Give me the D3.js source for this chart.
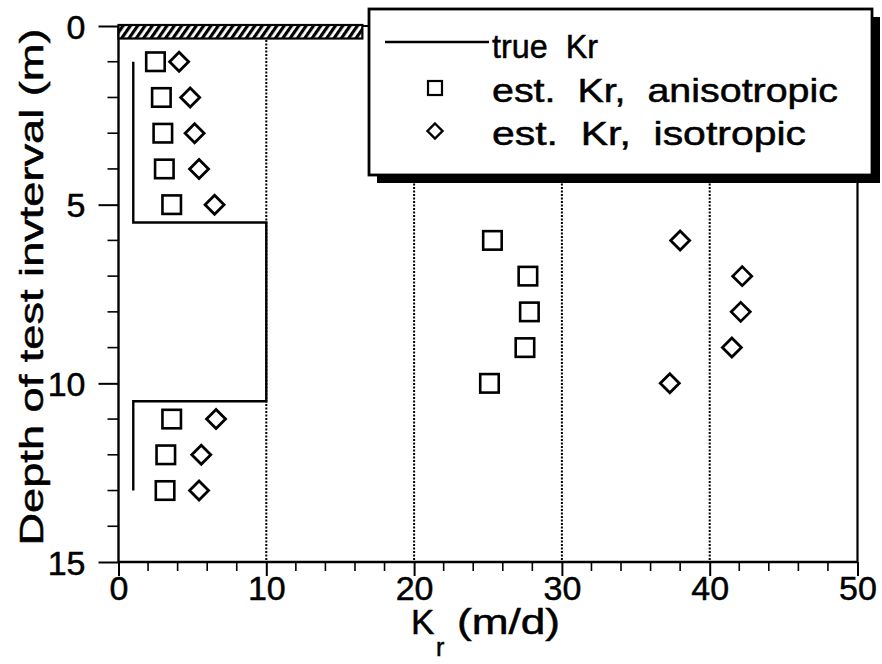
<!DOCTYPE html>
<html>
<head>
<meta charset="utf-8">
<script src="https://cdn.jsdelivr.net/npm/d3@7"></script>
<style>
  html, body { margin: 0; padding: 0; background: #fff; }
  svg { display: block; }
  text { font-family: "Liberation Sans", Arial, Helvetica, sans-serif; fill: #000; stroke: #000; stroke-width: 0.5px; }
</style>
</head>
<body>
<svg id="chart" width="882" height="664"></svg>
<script>
// ---- data ----
const depths = [1, 2, 3, 4, 5, 6, 7, 8, 9, 10, 11, 12, 13];
const anisoKr = [2.5, 2.9, 3.0, 3.1, 3.6, 25.3, 27.7, 27.8, 27.5, 25.1, 3.6, 3.2, 3.15];
const isoKr = [4.1, 4.85, 5.15, 5.45, 6.5, 38.0, 42.2, 42.1, 41.5, 37.3, 6.6, 5.6, 5.45];
const trueKrValues = [1, 1, 10, 10, 1, 1];
const trueKrDepths = [1, 5.5, 5.5, 10.5, 10.5, 13];
const surfaceKr = [0, 16.5];
const surfaceDepth = [0, 0.35];
const xTickValues = [0, 10, 20, 30, 40, 50];
const xMinorTicks = [2, 4, 6, 8, 12, 14, 16, 18, 22, 24, 26, 28, 32, 34, 36, 38, 42, 44, 46, 48];
const yTickValues = [0, 5, 10, 15];
const yMinorTicks = [1, 2, 3, 4, 6, 7, 8, 9, 11, 12, 13, 14];
const gridValues = [10, 20, 30, 40];
const legendLabels = ["true  Kr", "est.  Kr,  anisotropic", "est.  Kr,  isotropic"];
const xTitle = ["K", "r", "(m/d)"];
const yTitle = "Depth of test invterval (m)";

// ---- layout ----
const svg = d3.select("#chart");
const x = d3.scaleLinear().domain([0, 50]).range([118.5, 857.5]);
const y = d3.scaleLinear().domain([0, 15]).range([26, 562]);

// hatch pattern
const defs = svg.append("defs");
const pat = defs.append("pattern").attr("id", "hatch")
  .attr("patternUnits", "userSpaceOnUse").attr("width", 6).attr("height", 6)
  .attr("patternTransform", "rotate(35)");
pat.append("rect").attr("width", 6).attr("height", 6).attr("fill", "#fff");
pat.append("rect").attr("width", 3.2).attr("height", 6).attr("fill", "#000");

// grid lines
svg.append("g").selectAll("line").data(gridValues).join("line")
  .attr("x1", d => x(d)).attr("x2", d => x(d))
  .attr("y1", y(0)).attr("y2", y(15))
  .attr("stroke", "#000").attr("stroke-width", 2)
  .attr("stroke-dasharray", "2,1.5");

// frame: right and top
svg.append("line").attr("x1", x(50)).attr("x2", x(50)).attr("y1", y(0)).attr("y2", y(15))
  .attr("stroke", "#000").attr("stroke-width", 2.2);
svg.append("line").attr("x1", x(0)).attr("x2", x(50)).attr("y1", y(0)).attr("y2", y(0))
  .attr("stroke", "#000").attr("stroke-width", 2);

// x axis
const xAxis = svg.append("g").attr("transform", `translate(0,${y(15)})`);
xAxis.call(d3.axisBottom(x).tickValues(xTickValues).tickSize(14).tickPadding(0).tickFormat(d3.format("d")));
xAxis.append("g").selectAll("line").data(xMinorTicks).join("line")
  .attr("x1", d => x(d)).attr("x2", d => x(d)).attr("y1", 0).attr("y2", 9)
  .attr("stroke", "#000").attr("stroke-width", 1.6);
xAxis.select(".domain").attr("d", `M${x(0)},0H${x(50)}`).attr("stroke-width", 2.4);
xAxis.selectAll(".tick line").attr("stroke-width", 2);
xAxis.selectAll(".tick text").style("font-size", "34px").attr("dy", "0.7em");

// y axis
const yAxis = svg.append("g").attr("transform", `translate(${x(0)},0)`);
yAxis.call(d3.axisLeft(y).tickValues(yTickValues).tickSize(20).tickPadding(13).tickFormat(d3.format("d")));
yAxis.append("g").selectAll("line").data(yMinorTicks).join("line")
  .attr("y1", d => y(d)).attr("y2", d => y(d)).attr("x1", 0).attr("x2", -11)
  .attr("stroke", "#000").attr("stroke-width", 1.6);
yAxis.select(".domain").attr("d", `M0,${y(0)}V${y(15)}`).attr("stroke-width", 2.4);
yAxis.selectAll(".tick line").attr("stroke-width", 2);
yAxis.selectAll(".tick text").style("font-size", "34px").attr("dy", "0.36em");

// hatched surface bar
svg.append("rect")
  .attr("x", x(surfaceKr[0])).attr("y", y(surfaceDepth[0]) - 1)
  .attr("width", x(surfaceKr[1]) - x(surfaceKr[0]))
  .attr("height", y(surfaceDepth[1]) - y(surfaceDepth[0]) + 1)
  .attr("fill", "url(#hatch)").attr("stroke", "#000").attr("stroke-width", 2.2);

// true Kr step line
const truePts = trueKrValues.map((v, i) => [v, trueKrDepths[i]]);
svg.append("path").datum(truePts)
  .attr("d", d3.line().x(d => x(d[0])).y(d => y(d[1])))
  .attr("fill", "none").attr("stroke", "#000").attr("stroke-width", 2.4);

// squares (anisotropic)
const sq = 18.5;
svg.append("g").selectAll("rect").data(depths).join("rect")
  .attr("x", (d, i) => x(anisoKr[i]) - sq / 2).attr("y", d => y(d) - sq / 2)
  .attr("width", sq).attr("height", sq)
  .attr("fill", "none").attr("stroke", "#000").attr("stroke-width", 2.6);

// diamonds (isotropic)
const dh = 9.5;
const diamondPath = (cx, cy, h) => `M${cx},${cy - h}L${cx + h},${cy}L${cx},${cy + h}L${cx - h},${cy}Z`;
svg.append("g").selectAll("path").data(depths).join("path")
  .attr("d", (d, i) => diamondPath(x(isoKr[i]), y(d), dh))
  .attr("fill", "none").attr("stroke", "#000").attr("stroke-width", 2.8);

// legend
const lg = { x: 369, y: 9, w: 503, h: 166, sh: 8 };
svg.append("rect").attr("x", lg.x + lg.sh).attr("y", lg.y + lg.sh).attr("width", lg.w).attr("height", lg.h).attr("fill", "#000");
svg.append("rect").attr("x", lg.x).attr("y", lg.y).attr("width", lg.w).attr("height", lg.h)
  .attr("fill", "#fff").attr("stroke", "#000").attr("stroke-width", 2.8);
const rowY = [46, 90, 133];
const rowLen = [106, 346, 314];
svg.append("line").attr("x1", 385).attr("x2", 489).attr("y1", rowY[0] - 4).attr("y2", rowY[0] - 4)
  .attr("stroke", "#000").attr("stroke-width", 2.4);
svg.append("rect").attr("x", 435 - 7).attr("y", rowY[1] - 9).attr("width", 14).attr("height", 14)
  .attr("fill", "none").attr("stroke", "#000").attr("stroke-width", 2.2);
svg.append("path").attr("d", diamondPath(435, rowY[2] - 2, 7.5))
  .attr("fill", "none").attr("stroke", "#000").attr("stroke-width", 2.4);
svg.append("g").selectAll("text").data(legendLabels).join("text")
  .attr("x", 492).attr("y", (d, i) => rowY[i]).attr("dy", "0.35em")
  .style("font-size", "33px").attr("xml:space", "preserve")
  .attr("textLength", (d, i) => rowLen[i]).attr("lengthAdjust", "spacingAndGlyphs")
  .text(d => d);

// axis titles
svg.append("text").attr("x", 411).attr("y", 634).style("font-size", "35px").text(xTitle[0]);
svg.append("text").attr("x", 436).attr("y", 656).style("font-size", "25px").text(xTitle[1]);
svg.append("text").attr("x", 457).attr("y", 634).style("font-size", "35px")
  .attr("textLength", 103).attr("lengthAdjust", "spacingAndGlyphs").text(xTitle[2]);

svg.append("text")
  .attr("transform", `translate(43,${287}) rotate(-90)`)
  .attr("text-anchor", "middle").style("font-size", "33px")
  .attr("textLength", 517).attr("lengthAdjust", "spacingAndGlyphs")
  .text(yTitle);
</script>
</body>
</html>
